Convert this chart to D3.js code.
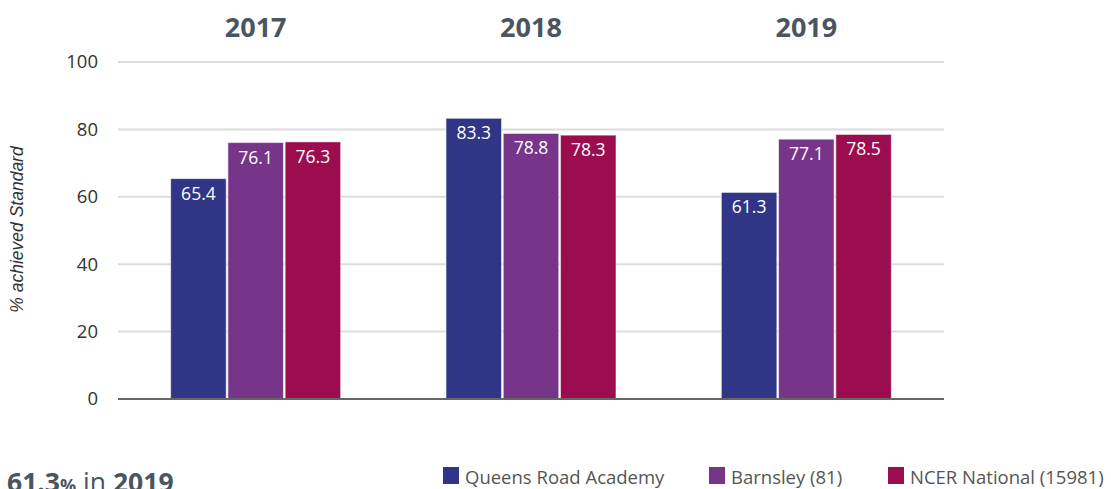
<!DOCTYPE html>
<html>
<head>
<meta charset="utf-8">
<script src="https://cdn.jsdelivr.net/npm/d3@7"></script>
<style>
  body { margin: 0; background: #fff; overflow: hidden; }
  svg { font-family: "Open Sans", sans-serif; }
</style>
</head>
<body>
<div id="chart"></div>
<script>
// data
var years = ['2017', '2018', '2019'];
var seriesNames = ['Queens Road Academy', 'Barnsley (81)', 'NCER National (15981)'];
var seriesColors = ['#303585', '#773589', '#9b0d4f'];
var academy = [65.4, 83.3, 61.3];
var barnsley = [76.1, 78.8, 77.1];
var national = [76.3, 78.3, 78.5];
var yTicks = [0, 20, 40, 60, 80, 100];

var width = 1111, height = 489;
var margin = { top: 62, right: 167, bottom: 90, left: 118 };
var innerWidth = width - margin.left - margin.right,
	innerHeight = height - margin.top - margin.bottom;

var svg = d3.select('#chart')
	.append('svg')
		.attr('width', width)
		.attr('height', height);

var chartInner = svg.append('g')
	.attr('transform', `translate(${margin.left},${margin.top})`);

var x = d3.scaleBand()
	.domain(years)
	.range([0, innerWidth])
	.padding(0);

var groupWidth = 170;
var xInner = d3.scaleBand()
	.domain(d3.range(seriesNames.length))
	.range([-groupWidth / 2, groupWidth / 2])
	.paddingInner(0.03);

var y = d3.scaleLinear()
	.domain([0, 100])
	.range([innerHeight, 0]);

// gridlines
chartInner.append('g')
	.selectAll('line')
	.data(yTicks.filter(d => d > 0))
	.join('line')
		.attr('x1', 0)
		.attr('x2', innerWidth)
		.attr('y1', d => y(d))
		.attr('y2', d => y(d))
		.style('stroke', '#dcdcdc')
		.style('stroke-width', 2);

// y axis labels
var yAxis = d3.axisLeft(y).tickValues(yTicks).tickSize(0).tickPadding(20);
chartInner.append('g')
	.call(yAxis)
	.call(g => g.select('.domain').remove())
	.selectAll('text')
		.style('font-family', '"Open Sans", sans-serif')
		.style('font-size', '18.5px')
		.style('fill', '#333');

// year headers
chartInner.append('g')
	.selectAll('text')
	.data(years)
	.join('text')
		.attr('x', d => x(d) + x.bandwidth() / 2)
		.attr('y', -36)
		.attr('text-anchor', 'middle')
		.attr('dominant-baseline', 'central')
		.style('font-size', '27px')
		.style('font-weight', 'bold')
		.style('fill', '#4a5561')
		.text(d => d);

// bars
var rows = years.map((yr, i) => ({
	year: yr,
	values: [academy[i], barnsley[i], national[i]]
}));

var groups = chartInner.append('g')
	.selectAll('g')
	.data(rows)
	.join('g')
		.attr('transform', d => `translate(${x(d.year) + x.bandwidth() / 2},0)`);

groups.selectAll('rect')
	.data(d => d.values.map((v, j) => ({ v: v, j: j })))
	.join('rect')
		.attr('x', d => xInner(d.j))
		.attr('width', xInner.bandwidth())
		.attr('y', d => y(d.v))
		.attr('height', d => innerHeight - y(d.v))
		.style('fill', d => seriesColors[d.j])
		.style('stroke', 'rgba(255,255,255,0.55)')
		.style('stroke-width', 1);

groups.selectAll('text')
	.data(d => d.values.map((v, j) => ({ v: v, j: j })))
	.join('text')
		.attr('x', d => xInner(d.j) + xInner.bandwidth() / 2)
		.attr('y', d => y(d.v) + 14)
		.attr('text-anchor', 'middle')
		.attr('dominant-baseline', 'central')
		.style('font-size', '17.5px')
		.style('fill', '#fff')
		.text(d => d.v.toFixed(1));

// zero line
chartInner.append('line')
	.attr('x1', 0)
	.attr('x2', innerWidth)
	.attr('y1', y(0))
	.attr('y2', y(0))
	.style('stroke', '#666')
	.style('stroke-width', 2);

// y axis title
svg.append('text')
	.attr('transform', `translate(17,${margin.top + innerHeight / 2 - 1}) rotate(-90)`)
	.attr('text-anchor', 'middle')
	.attr('dominant-baseline', 'central')
	.style('font-family', '"Liberation Sans", Arial, sans-serif')
	.style('font-style', 'italic')
	.style('font-size', '17.5px')
	.style('fill', '#333')
	.text('% achieved Standard');

// legend
var legendX = [443, 709, 888];
var legend = svg.append('g')
	.selectAll('g')
	.data(seriesNames)
	.join('g')
		.attr('transform', (d, i) => `translate(${legendX[i]},467)`);

legend.append('rect')
	.attr('width', 16)
	.attr('height', 17)
	.style('fill', (d, i) => seriesColors[i]);

legend.append('text')
	.attr('x', 22)
	.attr('y', 9)
	.attr('dominant-baseline', 'central')
	.style('font-size', '18.5px')
	.style('fill', '#555')
	.text(d => d);

// summary line, cut off by the bottom of the frame
var summary = svg.append('text')
	.attr('x', 7)
	.attr('y', 492)
	.style('font-size', '26.5px')
	.style('fill', '#4a5561');
summary.append('tspan').style('font-weight', 'bold').text(academy[2].toFixed(1));
summary.append('tspan').style('font-weight', 'bold').style('font-size', '18px').text('%');
summary.append('tspan').text(' in ');
summary.append('tspan').style('font-weight', 'bold').text(years[2]);
</script>
</body>
</html>
